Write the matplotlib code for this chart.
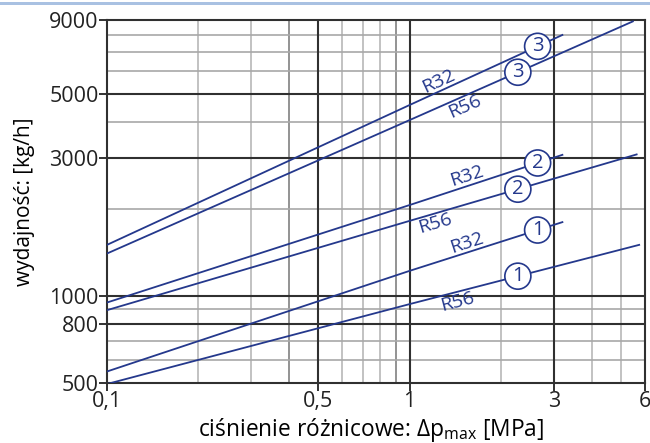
import matplotlib.pyplot as plt
import numpy as np

# krzywe wydajności: x = Δp [MPa], y = wydajność [kg/h]
x_r32_1 = [0.1, 1.0, 3.2]
y_r32_1 = [548, 1221, 1800]
x_r32_2 = [0.1, 1.0, 3.2]
y_r32_2 = [949, 2062, 3076]
x_r32_3 = [0.1, 1.0, 3.2]
y_r32_3 = [1502, 4573, 7990]

x_r56_1 = [0.1, 1.0, 5.74]
y_r56_1 = [496, 937, 1502]
x_r56_2 = [0.1, 1.0, 5.63]
y_r56_2 = [893, 1818, 3086]
x_r56_3 = [0.1, 1.0, 5.47]
y_r56_3 = [1402, 4056, 8900]

x_ticks = [0.1, 0.5, 1, 3, 6]
x_tick_labels = ["0,1", "0,5", "1", "3", "6"]
y_ticks = [500, 800, 1000, 3000, 5000, 9000]
x_minor = [0.2, 0.3, 0.4, 0.6, 0.7, 0.8, 0.9, 2, 4, 5]
y_minor = [600, 700, 900, 2000, 4000, 6000, 7000, 8000]

# etykiety: (x serii, y serii, numer, x napisu R.., x kółka, nazwa, strona)
curves = [
    (x_r32_1, y_r32_1, "1", 1.58, 2.65, "R32", 1),
    (x_r32_2, y_r32_2, "2", 1.58, 2.65, "R32", 1),
    (x_r32_3, y_r32_3, "3", 1.29, 2.65, "R32", 1),
    (x_r56_1, y_r56_1, "1", 1.41, 2.28, "R56", -1),
    (x_r56_2, y_r56_2, "2", 1.19, 2.28, "R56", -1),
    (x_r56_3, y_r56_3, "3", 1.48, 2.28, "R56", -1),
]

plt.rcParams['font.family'] = ['Open Sans', 'DejaVu Sans']
plt.rcParams['mathtext.fontset'] = 'custom'
plt.rcParams['mathtext.rm'] = 'Open Sans'

navy = '#24388c'

fig = plt.figure(figsize=(6.5, 4.43), dpi=100)
ax = fig.add_axes([107/650, 1 - 383/443, 538/650, 363/443])
ax.set_xscale('log')
ax.set_yscale('log')
ax.set_xlim(0.1, 6)
ax.set_ylim(500, 9000)

# siatka
for v in x_minor:
    ax.axvline(v, color='#808080' if v in (0.4, 0.9) else '#b8b8b8', lw=1.2, zorder=1)
for v in y_minor:
    ax.axhline(v, color='#a8a8a8', lw=1.2, zorder=1)
for v in x_ticks[1:-1]:
    ax.axvline(v, color='#303030', lw=1.5, zorder=1)
for v in y_ticks[1:-1]:
    ax.axhline(v, color='#303030', lw=1.5, zorder=1)

for xs, ys, *_ in curves:
    ax.plot(xs, ys, color=navy, lw=1.3, zorder=3)

ax.set_xticks(x_ticks)
ax.set_xticklabels(x_tick_labels)
ax.set_yticks(y_ticks)
ax.set_yticklabels([str(v) for v in y_ticks])
ax.minorticks_off()
ax.tick_params(labelsize=15.5, length=6, width=1.3, pad=0, colors='#222222')
for s in ax.spines.values():
    s.set_linewidth(1.5)
    s.set_color('#303030')

ax.set_xlabel("ciśnienie różnicowe: Δp$_{\\mathrm{max}}$ [MPa]", fontsize=16.4, labelpad=4)
ax.xaxis.set_label_coords(0.49, -0.09)
ax.set_ylabel("wydajność: [kg/h]", fontsize=15, labelpad=10)


def on_line(xs, ys, xq):
    return 10 ** np.interp(np.log10(xq), np.log10(xs), np.log10(ys))


for xs, ys, num, xt, xc, name, side in curves:
    p = ax.transData.transform([(xs[0], ys[0]), (xs[-1], ys[-1])])
    ang = np.degrees(np.arctan2(p[1][1] - p[0][1], p[1][0] - p[0][0]))
    nx, ny = -np.sin(np.radians(ang)), np.cos(np.radians(ang))
    d = 7.0 * side
    ax.annotate(name, (xt, on_line(xs, ys, xt)), xytext=(nx * d, ny * d),
                textcoords='offset points', ha='center', va='center',
                rotation=ang, rotation_mode='anchor', fontsize=14,
                color=navy, zorder=4)
    ax.text(xc, on_line(xs, ys, xc), num, ha='center', va='center',
            fontsize=14.5, color=navy, zorder=5,
            bbox=dict(boxstyle='circle,pad=0.15', fc='white', ec=navy, lw=1.2))

# pasek u góry
fig.add_artist(plt.Rectangle((0, 1 - 5/443), 1, 3/443, transform=fig.transFigure,
                             color='#a9c1e2', lw=0))

fig.savefig('out.png', dpi=100)
